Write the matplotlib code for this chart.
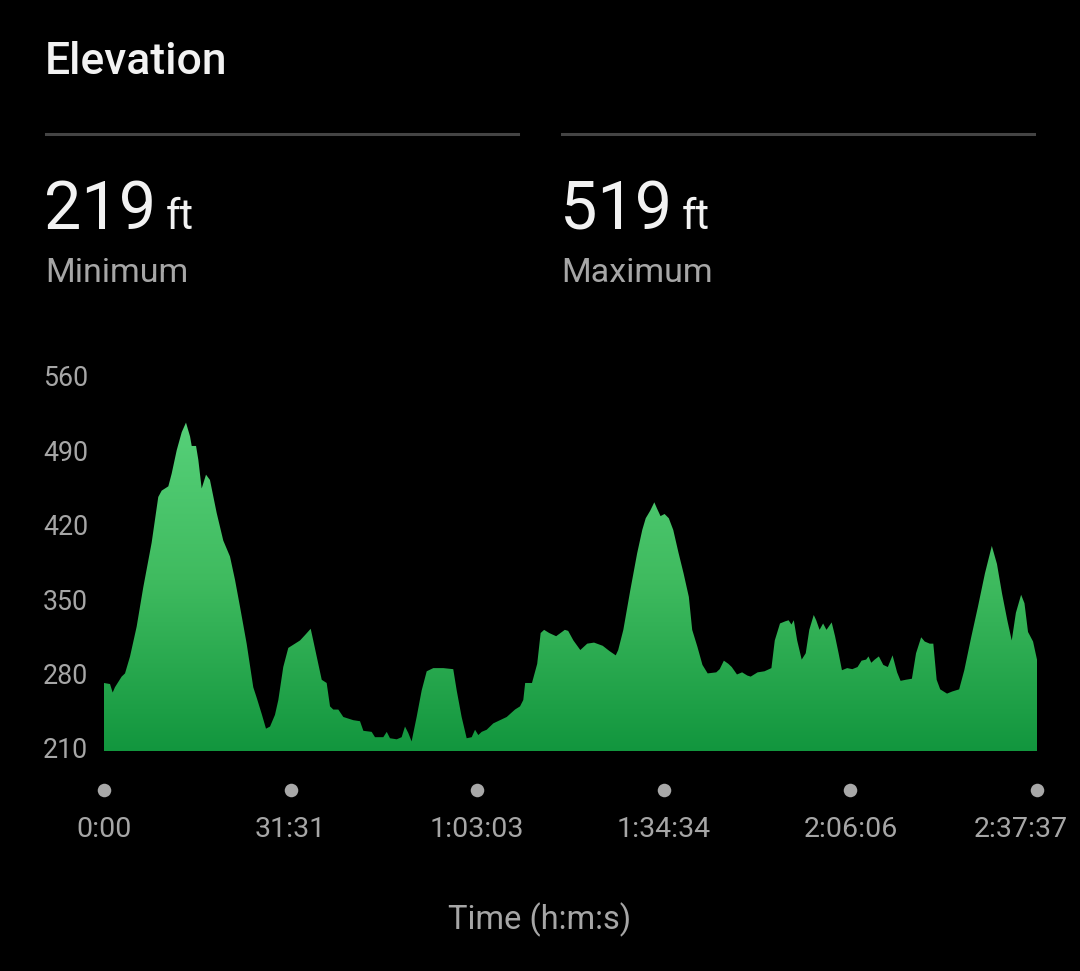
import numpy as np
import matplotlib
matplotlib.use("Agg")
import matplotlib.pyplot as plt
import matplotlib.transforms as mtransforms
from matplotlib.colors import LinearSegmentedColormap
from matplotlib.patches import PathPatch
from matplotlib.path import Path

# ---------------- data ----------------
total_seconds = 9457  # 2:37:37
tick_seconds = [0, 1891, 3783, 5674, 7566, 9457]
tick_labels = ["0:00", "31:31", "1:03:03", "1:34:34", "2:06:06", "2:37:37"]
y_ticks = [210, 280, 350, 420, 490, 560]

min_elev = 219
max_elev = 519

# profile: time (s) and elevation (ft)
times = [
    0, 61, 88, 111, 179, 213, 264, 331, 398, 483,
    550, 585, 652, 686, 737, 788, 831, 872, 889, 933,
    956, 990, 1034, 1074, 1142, 1209, 1277, 1328, 1378, 1446,
    1513, 1548, 1598, 1642, 1683, 1733, 1767, 1817, 1868, 1936,
    1987, 2037, 2095, 2121, 2172, 2207, 2257, 2291, 2324, 2375,
    2426, 2527, 2595, 2629, 2713, 2747, 2831, 2866, 2899, 2967,
    3017, 3051, 3084, 3118, 3169, 3220, 3271, 3338, 3439, 3540,
    3575, 3625, 3676, 3727, 3761, 3794, 3828, 3879, 3946, 4014,
    4082, 4166, 4217, 4250, 4269, 4338, 4391, 4426, 4461, 4513,
    4583, 4671, 4705, 4758, 4828, 4898, 4967, 5055, 5124, 5187,
    5212, 5264, 5334, 5404, 5456, 5491, 5536, 5578, 5606, 5641,
    5682, 5725, 5770, 5822, 5875, 5928, 5962, 6015, 6066, 6119,
    6206, 6241, 6283, 6329, 6363, 6416, 6468, 6521, 6555, 6625,
    6695, 6765, 6799, 6852, 6905, 6939, 6968, 6992, 7026, 7072,
    7113, 7149, 7194, 7219, 7253, 7289, 7323, 7376, 7410, 7446,
    7480, 7533, 7585, 7638, 7679, 7725, 7749, 7777, 7812, 7854,
    7899, 7945, 7993, 8039, 8074, 8126, 8189, 8231, 8283, 8319,
    8370, 8406, 8440, 8476, 8545, 8598, 8668, 8720, 8790, 8859,
    8929, 8999, 9051, 9103, 9156, 9201, 9243, 9296, 9330, 9366,
    9417, 9457,
]
elev = [
    274, 273, 265, 270, 280, 283, 299, 327, 364, 406,
    449, 455, 459, 471, 493, 510, 519, 506, 497, 497,
    484, 457, 470, 465, 434, 408, 393, 371, 346, 311,
    270, 260, 245, 231, 233, 244, 258, 289, 307, 311,
    314, 319, 325, 314, 292, 277, 274, 252, 249, 249,
    242, 239, 238, 229, 228, 223, 223, 228, 222, 221,
    223, 233, 227, 219, 242, 267, 285, 288, 288, 287,
    267, 242, 222, 223, 230, 225, 228, 230, 236, 239,
    242, 249, 252, 258, 274, 274, 292, 321, 324, 321,
    318, 324, 323, 314, 305, 311, 312, 309, 304, 300,
    305, 324, 361, 396, 418, 429, 436, 444, 438, 431,
    433, 429, 418, 397, 377, 355, 324, 308, 291, 283,
    284, 287, 295, 292, 289, 282, 284, 281, 280, 284,
    285, 288, 314, 330, 332, 333, 329, 333, 314, 296,
    302, 324, 338, 333, 324, 330, 324, 331, 318, 302,
    286, 288, 287, 289, 295, 296, 299, 293, 296, 299,
    291, 289, 300, 284, 276, 277, 278, 302, 317, 313,
    311, 311, 277, 268, 264, 266, 268, 286, 317, 346,
    377, 403, 386, 358, 333, 314, 340, 357, 349, 322,
    313, 296,
]

# ---------------- style ----------------
BG = "#000000"
GRAY = "#a6a6a6"
WHITE = "#f2f2f2"
plt.rcParams["font.family"] = ["Roboto", "DejaVu Sans"]

W, H = 1080, 971
fig = plt.figure(figsize=(W / 100, H / 100), dpi=100, facecolor=BG)


def fx(px):
    return px / W


def fy(py):
    return 1 - py / H


# header texts
fig.text(fx(45), fy(62), "Elevation", color=WHITE, fontsize=32, fontweight="medium",
         va="center", ha="left")
fig.add_artist(plt.Line2D([fx(46), fx(518)], [fy(134), fy(134)], color="#444444", lw=2.2))
fig.add_artist(plt.Line2D([fx(562), fx(1034)], [fy(134), fy(134)], color="#444444", lw=2.2))

t1 = fig.text(fx(44), fy(229), f"{min_elev}", color=WHITE, fontsize=48, va="baseline", ha="left")
t2 = fig.text(fx(560), fy(229), f"{max_elev}", color=WHITE, fontsize=48, va="baseline", ha="left")
fig.canvas.draw()
r = fig.canvas.get_renderer()
for t in (t1, t2):
    bb = t.get_window_extent(r)
    fig.text((bb.x1 + 10) / W, fy(229), "ft", color=WHITE, fontsize=30, va="baseline", ha="left")
fig.text(fx(45), fy(273), "Minimum", color=GRAY, fontsize=24.5, va="center", ha="left")
fig.text(fx(561), fy(273), "Maximum", color=GRAY, fontsize=24.5, va="center", ha="left")

# chart axes
ax = fig.add_axes([fx(104), fy(751), fx(1037) - fx(104), fy(379) - fy(751)])
ax.set_facecolor(BG)
for s in ax.spines.values():
    s.set_visible(False)

ax.set_yticks(y_ticks)
ax.set_yticklabels([str(v) for v in y_ticks])
ax.tick_params(axis="y", length=0, pad=11.5, labelsize=19.3, labelcolor=GRAY)
ax.set_xticks(tick_seconds)
ax.set_xticklabels(tick_labels)
ax.tick_params(axis="x", length=0, pad=47, labelsize=20.5, labelcolor=GRAY)
for lab in ax.get_yticklabels():
    lab.set_va("center")
# the last time label is shifted left to stay inside the card
last = ax.xaxis.get_major_ticks()[-1].label1
last.set_transform(last.get_transform()
                   + mtransforms.ScaledTranslation(-0.16, 0, fig.dpi_scale_trans))

# gradient-filled area
tt = np.array(times, dtype=float)
ee = np.array(elev, dtype=float)
verts = [(tt[0], 210)] + list(zip(tt, ee)) + [(tt[-1], 210), (tt[0], 210)]
codes = [Path.MOVETO] + [Path.LINETO] * (len(verts) - 2) + [Path.CLOSEPOLY]
patch = PathPatch(Path(verts, codes), facecolor="none", edgecolor="none")
ax.add_patch(patch)

cmap = LinearSegmentedColormap.from_list("g", ["#12963e", "#3fbb5f", "#58d27b"])
grad = np.linspace(0, 1, 256).reshape(-1, 1)
im = ax.imshow(grad, extent=[0, total_seconds, 210, 530], origin="lower",
               aspect="auto", cmap=cmap, interpolation="bilinear", zorder=2)
im.set_clip_path(patch)
ax.set_xlim(0, total_seconds)
ax.set_ylim(210, 560)

# dots under the axis
ax.scatter(tick_seconds, [-0.105] * len(tick_seconds), s=95, color="#a8a8a8",
           transform=ax.get_xaxis_transform(), clip_on=False, zorder=3, linewidths=0)

fig.text(0.5, fy(920), "Time (h:m:s)", color=GRAY, fontsize=23.5, va="center", ha="center")

fig.savefig("out.png", dpi=100, facecolor=BG)
